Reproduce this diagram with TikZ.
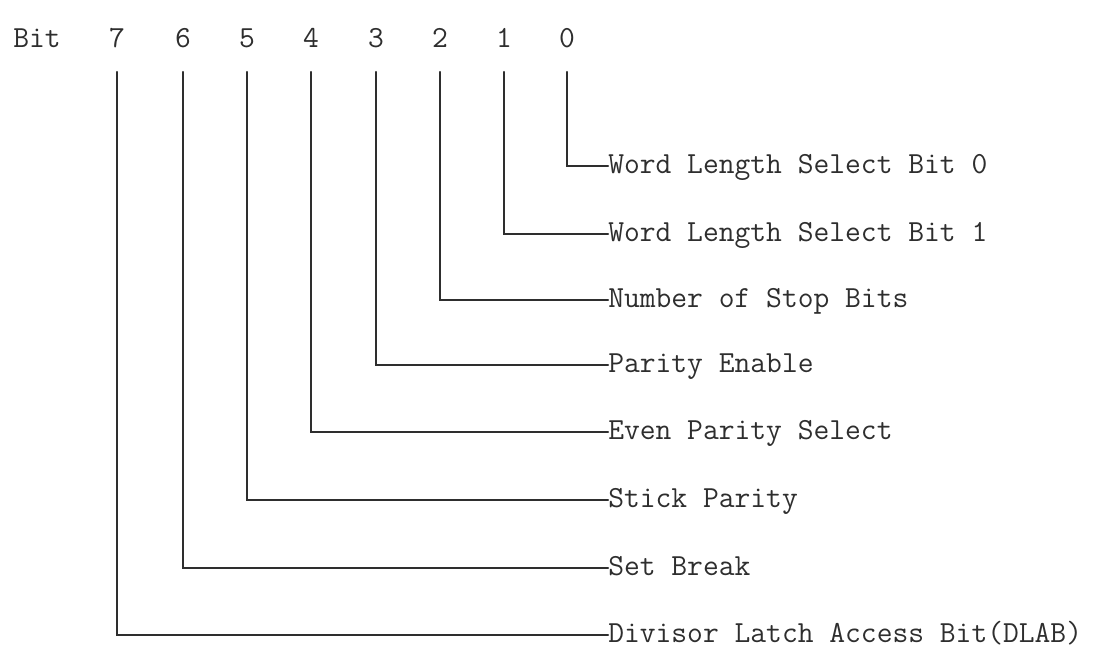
\documentclass[tikz,border=0pt]{standalone}
\definecolor{ink}{HTML}{2E2E2E}
\tikzset{
  bitnum/.style={inner sep=0pt, text height=14pt, text depth=3.5pt, text=ink},
  field/.style={anchor=west, inner sep=0pt, text height=14pt, text depth=3.5pt, text=ink},
  wire/.style={draw=ink, line width=1.6pt, line cap=round}
}
\begin{document}
\begin{tikzpicture}[x=0.75pt, y=-0.75pt, font=\ttfamily\fontsize{23}{28}\selectfont]
		\useasboundingbox (0,0) rectangle (1102,650);
		%
		\node[bitnum, anchor=west] (bit) at (13,40) {Bit};
		\node[bitnum] (b7) at (117,40) {7};
		\node[bitnum] (b6) at (183,40) {6};
		\node[bitnum] (b5) at (247,40) {5};
		\node[bitnum] (b4) at (311,40) {4};
		\node[bitnum] (b3) at (376,40) {3};
		\node[bitnum] (b2) at (440,40) {2};
		\node[bitnum] (b1) at (504,40) {1};
		\node[bitnum] (b0) at (567,40) {0};
		%
		\node[field] (l0) at (608,166) {Word Length Select Bit 0};
		\node[field] (l1) at (608,234) {Word Length Select Bit 1};
		\node[field] (l2) at (608,300) {Number of Stop Bits};
		\node[field] (l3) at (608,365) {Parity Enable};
		\node[field] (l4) at (608,432) {Even Parity Select};
		\node[field] (l5) at (608,500) {Stick Parity};
		\node[field] (l6) at (608,568) {Set Break};
		\node[field] (l7) at (608,635) {Divisor Latch Access Bit(DLAB)};
		%
		\draw[wire] ([yshift=-15pt]b0.south) |- (l0.west);
		\draw[wire] ([yshift=-15pt]b1.south) |- (l1.west);
		\draw[wire] ([yshift=-15pt]b2.south) |- (l2.west);
		\draw[wire] ([yshift=-15pt]b3.south) |- (l3.west);
		\draw[wire] ([yshift=-15pt]b4.south) |- (l4.west);
		\draw[wire] ([yshift=-15pt]b5.south) |- (l5.west);
		\draw[wire] ([yshift=-15pt]b6.south) |- (l6.west);
		\draw[wire] ([yshift=-15pt]b7.south) |- (l7.west);
	\end{tikzpicture}
\end{document}
